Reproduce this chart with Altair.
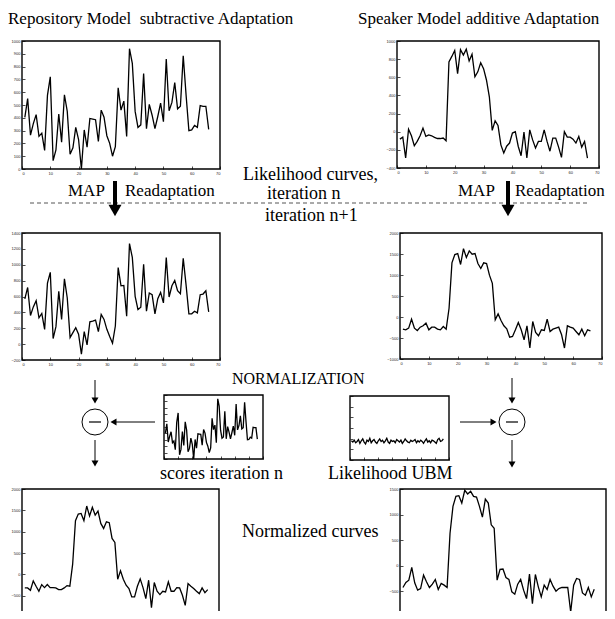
import altair as alt
import pandas as pd

# ---------------- data ----------------
t = list(range(1, 67))

repo_n = [404, 550, 265, 355, 425, 255, 280, 145, 575, 720, 65, 150, 430, 210, 580, 450, 115, 165, 325, 230,
          0, 305, 170, 395, 390, 385, 215, 460, 405, 260, 200, 100, 175, 635, 460, 530, 255, 940, 825, 450,
          325, 345, 745, 315, 505, 420, 315, 410, 515, 370, 860, 455, 520, 675, 470, 490, 885, 580, 300, 305,
          340, 325, 495, 490, 490, 310]

spk_n = [-82, -60, -290, 28, -45, -155, -107, -45, 40, -52, -35, -45, -63, -75, -75, -70, -100, 770, 830, 895,
         640, 905, 845, 910, 780, 855, 605, 660, 760, 695, 570, 385, 15, 120, 70, -145, -235, -160, -125, -15,
         0, -160, -265, -5, -290, 20, -90, -180, -107, -107, 20, -107, -215, -70, -70, -170, -283, 0, -60, -60,
         -82, -125, -52, -170, -107, -290]

repo_n1 = [569, 714, 361, 469, 548, 332, 386, 186, 768, 905, 70, 220, 664, 311, 822, 581, 82, 145, 207, 124,
           -125, 157, -9, 282, 290, 303, 157, 373, 311, 186, 95, 12, 228, 964, 735, 739, 353, 1267, 1092, 602,
           436, 465, 1005, 415, 644, 623, 382, 573, 652, 519, 1092, 594, 735, 802, 673, 635, 1080, 747, 382, 382,
           415, 394, 623, 631, 673, 407]

spk_n1 = [-289, -305, -266, -53, -266, -321, -242, -210, -147, -305, -242, -242, -289, -305, -226, -289, 208, 1289, 1487, 1511,
          1250, 1629, 1416, 1574, 1495, 1511, 1274, 1155, 1289, 1274, 997, 800, -68, 74, -84, -210, -282, -479, -463, -305,
          -132, -305, -542, -210, -739, -108, -368, -447, -305, -321, -53, -345, -289, -266, -242, -423, -739, -210, -242, -266,
          -345, -423, -289, -447, -305, -329]

norm_repo = [-318, -318, -373, -154, -279, -397, -240, -311, -240, -311, -311, -318, -358, -358, -318, -264, -279, 238, 1256, 1413,
             1428, 1256, 1601, 1366, 1570, 1389, 1483, 1193, 1076, 1232, 1209, 841, 747, -115, 81, -115, -256, -334, -530, -530,
             -279, -107, -311, -569, -138, -781, -193, -397, -475, -397, -413, -178, -397, -397, -311, -318, -491, -726, -217, -279,
             -334, -397, -452, -318, -428, -358]

norm_spk = [-424, -326, -280, -31, -332, -476, -444, -182, -313, -424, -359, -267, -463, -346, -378, -424, 636, 1160, 1356, 1369,
            1225, 1474, 1402, 1454, 1356, 1343, 1160, 950, 1304, 1225, 800, 734, -280, -71, -64, -228, -267, -509, -555, -359,
            -267, -476, -640, -162, -738, -169, -411, -607, -378, -463, -267, -398, -496, -444, -424, -424, -424, -902, -378, -247,
            -267, -529, -575, -424, -607, -457]

ubm = [180, 168, 186, 162, 174, 192, 156, 180, 198, 168, 150, 186, 174, 204, 162, 180, 192, 168, 156, 180,
       198, 174, 186, 162, 180, 204, 168, 156, 186, 174, 180, 162, 192, 180, 168, 186, 156, 174, 198, 180,
       168, 162, 186, 174, 180, 192, 162, 180, 168, 186, 174, 156, 180, 198, 168, 180, 162, 186, 180, 168,
       156, 192, 204, 174, 180, 198]

x_ticks = list(range(0, 71, 10))

# ---------------- layout (image pixels) ----------------
W, H = 599, 603
OX, OY = 8, 8
FONT = "Liberation Serif"

panels = [
    dict(vals=repo_n, box=(22, 220, 41, 169), ydom=(0, 1000), ystep=100, xlab=True, ylab=True, ylo=0),
    dict(vals=spk_n, box=(397, 599, 41, 168), ydom=(-400, 1000), ystep=200, xlab=True, ylab=True, ylo=-400),
    dict(vals=repo_n1, box=(22, 220, 233, 360), ydom=(-200, 1400), ystep=200, xlab=True, ylab=True, ylo=-200),
    dict(vals=spk_n1, box=(400, 602, 233, 359), ydom=(-1000, 2000), ystep=500, xlab=True, ylab=True, ylo=-1000),
    dict(vals=norm_repo, box=(22, 219, 489, 617), ydom=(-1000, 2000), ystep=500, xlab=False, ylab=True, ylo=-500),
    dict(vals=norm_spk, box=(400, 606, 489, 617), ydom=(-1000, 1500), ystep=500, xlab=False, ylab=True, ylo=-500),
    dict(vals=repo_n, box=(164, 263, 395, 459), ydom=(0, 1000), ystep=100, xlab=False, ylab=False, ylo=0),
    dict(vals=ubm, box=(350, 449, 396, 460), ydom=(0, 600), ystep=100, xlab=False, ylab=False, ylo=0),
]

# text, left x, baseline y, font size
texts = [
    ("Repository Model\u00a0 subtractive Adaptation", 8, 24, 17),
    ("Speaker Model additive Adaptation", 358, 24, 17),
    ("Likelihood curves,", 243, 180, 18),
    ("MAP", 68, 196, 17),
    ("Readaptation", 125, 196, 17),
    ("iteration n", 267, 199, 18),
    ("MAP", 458, 196, 17),
    ("Readaptation", 515, 196, 17),
    ("iteration n+1", 265, 221, 18),
    ("NORMALIZATION", 232, 384, 16),
    ("scores iteration n", 160, 479, 18),
    ("Likelihood UBM", 328, 479, 18),
    ("Normalized curves", 242, 537, 18),
]

arrows = [
    (115, 181, 115, 217, "thick"),
    (508, 181, 508, 217, "thick"),
    (95, 380, 95, 404, "thin"),
    (95, 440, 95, 467, "thin"),
    (155, 422, 110, 422, "thin"),
    (512, 378, 512, 404, "thin"),
    (512, 440, 512, 468, "thin"),
    (460, 422, 497, 422, "thin"),
]

circles = [(95, 422), (512, 422)]
dashed = (30, 590, 203)

CX = alt.Scale(domain=[0, 615], range=[-OX, 615 - OX])
CY = alt.Scale(domain=[0, 619], range=[-OY, 619 - OY])


def cx(f):
    return alt.X(f"{f}:Q", scale=CX, axis=None)


def cy(f):
    return alt.Y(f"{f}:Q", scale=CY, axis=None)


layers = []

# ---------------- data panels ----------------
TK = 3
for p in panels:
    x0, x1, y0, y1 = p["box"]
    lo, hi = p["ydom"]
    df = pd.DataFrame({"t": t, "v": p["vals"]})
    xaxis = alt.Axis(orient="bottom", offset=(y1 - OY) - H - TK, values=x_ticks, tickSize=TK,
                     domain=False, grid=False, labels=p["xlab"], labelFontSize=4, labelPadding=2,
                     labelFont="Liberation Sans", labelColor="#222", tickColor="black", tickWidth=0.7,
                     format="d", title="")
    yaxis = alt.Axis(orient="left", offset=-(x0 - OX + TK), values=list(range(p["ylo"], hi + 1, p["ystep"])),
                     tickSize=TK, domain=False, grid=False, labels=p["ylab"], labelFontSize=4,
                     labelPadding=2, labelFont="Liberation Sans", labelColor="#222", tickColor="black",
                     tickWidth=0.7, format="d", title="")
    line = alt.Chart(df).mark_line(color="black", strokeWidth=1.3).encode(
        x=alt.X("t:Q", scale=alt.Scale(domain=[0, 70], range=[x0 - OX, x1 - OX], nice=False, zero=False), axis=xaxis),
        y=alt.Y("v:Q", scale=alt.Scale(domain=[lo, hi], range=[y1 - OY, y0 - OY], nice=False, zero=False), axis=yaxis),
    )
    layers.append(line)

# boxes
boxes = pd.DataFrame([dict(x=p["box"][0], x2=p["box"][1], y=p["box"][2], y2=p["box"][3]) for p in panels])
layers.append(alt.Chart(boxes).mark_rect(fillOpacity=0, stroke="black", strokeWidth=1.4).encode(
    x=cx("x"), x2="x2:Q", y=cy("y"), y2="y2:Q"))

# texts (one layer per font size)
tdf = pd.DataFrame([dict(s=s, x=x, y=y, fs=fs) for s, x, y, fs in texts])
for fs in sorted(tdf.fs.unique()):
    layers.append(alt.Chart(tdf[tdf.fs == fs]).mark_text(align="left", baseline="alphabetic", font=FONT,
                                                         fontSize=int(fs), color="black").encode(
        x=cx("x"), y=cy("y"), text="s:N"))

# dashed separator
ddf = pd.DataFrame([dict(x=dashed[0], x2=dashed[1], y=dashed[2])])
layers.append(alt.Chart(ddf).mark_rule(color="#555", strokeWidth=1, strokeDash=[4, 3]).encode(
    x=cx("x"), x2="x2:Q", y=cy("y")))

# arrows
shafts = []
heads = []
for x1, y1, x2, y2, kind in arrows:
    hs = 13 if kind == "thick" else 7
    dx = (x2 > x1) - (x2 < x1)
    dy = (y2 > y1) - (y2 < y1)
    shafts.append(dict(x=x1, y=y1, x2=x2 - dx * hs * 0.7, y2=y2 - dy * hs * 0.7,
                       w=4 if kind == "thick" else 1))
    shape = "triangle-down" if dy > 0 else ("triangle-up" if dy < 0 else ("triangle-right" if dx > 0 else "triangle-left"))
    heads.append(dict(x=x2 - dx * hs / 2, y=y2 - dy * hs / 2, shape=shape, size=hs * hs))
sdf = pd.DataFrame(shafts)
hdf = pd.DataFrame(heads)
for w in (4, 1):
    layers.append(alt.Chart(sdf[sdf.w == w]).mark_rule(color="black", strokeWidth=w).encode(
        x=cx("x"), y=cy("y"), x2="x2:Q", y2="y2:Q"))
layers.append(alt.Chart(hdf).mark_point(filled=True, color="black", opacity=1).encode(
    x=cx("x"), y=cy("y"), shape=alt.Shape("shape:N", scale=None), size=alt.Size("size:Q", scale=None)))

# subtraction circles
cdf = pd.DataFrame([dict(x=x, y=y, xl=x - 6, xr=x + 6) for x, y in circles])
layers.append(alt.Chart(cdf).mark_point(shape="circle", filled=False, color="black", size=676,
                                        strokeWidth=1, opacity=1).encode(x=cx("x"), y=cy("y")))
layers.append(alt.Chart(cdf).mark_rule(color="black", strokeWidth=1.2).encode(
    x=cx("xl"), x2="xr:Q", y=cy("y")))

chart = alt.layer(*layers).resolve_scale(x="independent", y="independent").properties(
    width=W, height=H, padding=0, autosize="none", background="white"
).configure_view(stroke=None)

chart.save("out.html", embed_options={"renderer": "svg", "actions": False})
